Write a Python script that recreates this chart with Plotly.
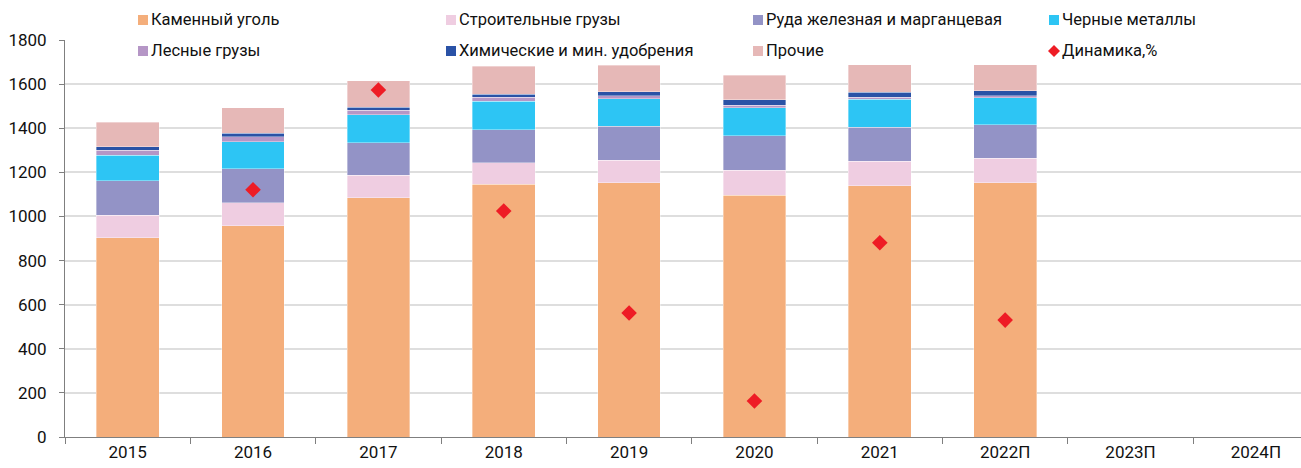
import plotly.graph_objects as go

# Категории (годы) и объёмы погрузки по видам грузов
years = ["2015", "2016", "2017", "2018", "2019", "2020", "2021", "2022П", "2023П", "2024П"]

coal = [904, 957, 1085, 1146, 1153, 1097, 1139, 1153, None, None]
construction = [101, 105, 101, 98, 102, 112, 112, 111, None, None]
ore = [157, 155, 148, 148, 155, 157, 153, 151, None, None]
ferrous = [115, 121, 126, 130, 124, 127, 127, 123, None, None]
timber = [24, 24, 21, 18, 13, 12, 10, 9, None, None]
fertilizers = [14, 16, 15, 15, 19, 24, 22, 22, None, None]
other = [112, 115, 119, 126, 119, 111, 124, 119, None, None]
dynamics = [None, 1121, 1573, 1025, 562, 163, 881, 530, None, None]

series_names = [
    "Каменный уголь",
    "Строительные грузы",
    "Руда железная и марганцевая",
    "Черные металлы",
    "Лесные грузы",
    "Химические и мин. удобрения",
    "Прочие",
]
series_values = [coal, construction, ore, ferrous, timber, fertilizers, other]
series_colors = ["#F4AE7B", "#EFCDE1", "#9393C6", "#2DC5F4", "#B596C6", "#2A52A6", "#E6B8B7"]
dyn_name = "Динамика,%"
dyn_color = "#EE1C25"

FONT = "Roboto, Arial, sans-serif"

fig = go.Figure()
for name, vals, col in zip(series_names, series_values, series_colors):
    fig.add_trace(go.Bar(
        x=years, y=vals, name=name,
        marker=dict(color=col, line=dict(color="rgba(255,255,255,0.6)", width=0.6)),
        width=0.5, showlegend=False,
    ))

fig.add_trace(go.Scatter(
    x=years, y=dynamics, name=dyn_name, mode="markers",
    marker=dict(symbol="diamond", size=12, color=dyn_color),
    showlegend=False,
))

# Plot area geometry in pixels (for the hand-placed legend)
W, H = 1301, 468
L, R, T, B = 65, 0, 40, 31
pw, ph = W - L - R, H - T - B


def px_x(x):
    return (x - L) / pw


def px_y(y):
    return (H - B - y) / ph


legend_cols = [143, 451, 758, 1054]
legend_rows = [20, 51]
legend_items = list(zip(series_names, series_colors)) + [(dyn_name, dyn_color)]
shapes = []
annotations = []
for i, (name, col) in enumerate(legend_items):
    cx = legend_cols[i % 4]
    cy = legend_rows[i // 4]
    if name == dyn_name:
        d = 6
        path = (f"M{px_x(cx - d)},{px_y(cy)} L{px_x(cx)},{px_y(cy - d)} "
                f"L{px_x(cx + d)},{px_y(cy)} L{px_x(cx)},{px_y(cy + d)} Z")
        shapes.append(dict(type="path", xref="paper", yref="paper", path=path,
                           fillcolor=col, line=dict(width=0)))
    else:
        s = 5
        shapes.append(dict(type="rect", xref="paper", yref="paper",
                           x0=px_x(cx - s), x1=px_x(cx + s),
                           y0=px_y(cy + s), y1=px_y(cy - s),
                           fillcolor=col, line=dict(width=0)))
    annotations.append(dict(x=px_x(cx + 6), y=px_y(cy), xref="paper", yref="paper",
                            text=name, showarrow=False, xanchor="left", yanchor="middle",
                            font=dict(family=FONT, size=16.5, color="#111111")))

fig.update_layout(
    width=W, height=H,
    margin=dict(l=L, r=R, t=T, b=B, pad=0),
    barmode="stack",
    plot_bgcolor="white", paper_bgcolor="white",
    font=dict(family=FONT, size=17, color="#111111"),
    shapes=shapes, annotations=annotations,
    showlegend=False,
    xaxis=dict(
        type="category", range=[-0.5, 9.36],
        showline=True, linecolor="#7f7f7f", linewidth=1,
        ticks="outside", tickson="boundaries", ticklen=6, tickcolor="#7f7f7f",
        showgrid=False, tickfont=dict(size=17),
    ),
    yaxis=dict(
        range=[0, 1800], tickvals=list(range(0, 1801, 200)),
        showline=True, linecolor="#7f7f7f", linewidth=1,
        ticks="outside", ticklen=5, tickcolor="#7f7f7f",
        showgrid=True, gridcolor="#DEDEDE", gridwidth=2,
        zeroline=False, tickfont=dict(size=17), ticklabelstandoff=9,
    ),
)

fig.write_html("out.html")
